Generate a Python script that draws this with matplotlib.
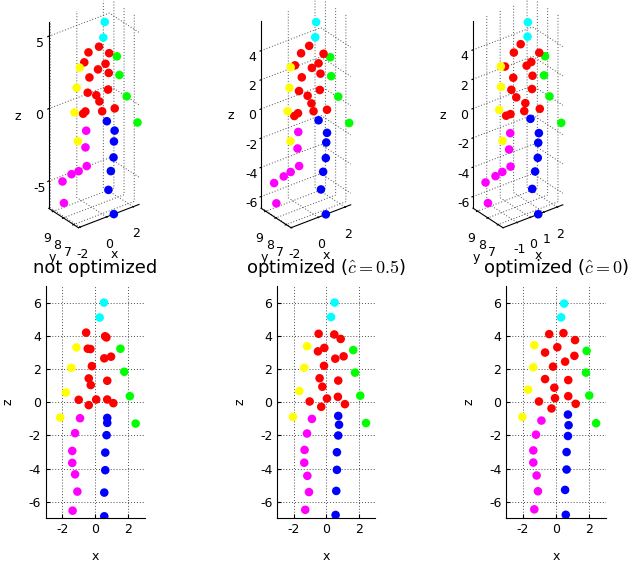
import numpy as np
import matplotlib
matplotlib.use('Agg')
import matplotlib.pyplot as plt

# point groups (body parts) in drawing order
groups = ['cyan'] * 2 + ['red'] * 16 + ['yellow'] * 4 + ['lime'] * 4 + ['magenta'] * 7 + ['blue'] * 7

# not optimized
x_not = [0.53, 0.27,
         -0.55, 0.60, 0.68, -0.45, -0.29, 0.55, 0.96, -0.20, -0.39, -0.27, 0.73, -1.00, 0.06, -0.39, 0.73, 1.10,
         -1.14, -1.45, -1.78, -2.12,
         1.53, 1.76, 2.10, 2.45,
         -0.92, -1.22, -1.39, -1.39, -1.22, -1.08, -1.37,
         0.73, 0.73, 0.69, 0.61, 0.61, 0.55, 0.55]
z_not = [6.00, 5.10,
         4.19, 3.97, 3.90, 3.22, 3.20, 2.64, 2.74, 2.17, 1.43, 1.03, 1.29, 0.14, 0.16, -0.18, 0.16, -0.06,
         3.30, 2.07, 0.58, -0.93,
         3.22, 1.83, 0.36, -1.29,
         -0.97, -1.87, -2.94, -3.66, -4.35, -5.39, -6.54,
         -0.95, -1.25, -1.99, -3.04, -4.10, -5.45, -6.88]

# optimized, c = 0.5
x_half = [0.51, 0.29,
          -0.47, 0.49, 0.88, -0.51, -0.12, 0.55, 1.06, -0.14, -0.41, -0.24, 0.73, -1.02, 0.04, -0.31, 0.71, 1.14,
          -1.18, -1.35, -1.65, -2.04,
          1.65, 1.76, 2.08, 2.43,
          -0.88, -1.18, -1.33, -1.35, -1.16, -1.06, -1.29,
          0.73, 0.78, 0.73, 0.65, 0.65, 0.61, 0.57]
z_half = [6.00, 5.13,
          4.12, 4.08, 3.81, 3.06, 3.27, 2.62, 2.76, 2.19, 1.44, 0.93, 1.30, 0.04, 0.22, -0.28, 0.32, -0.12,
          3.37, 2.07, 0.67, -0.89,
          3.14, 1.78, 0.39, -1.26,
          -1.01, -1.89, -2.88, -3.65, -4.44, -5.42, -6.49,
          -0.83, -1.36, -2.01, -3.02, -4.08, -5.35, -6.80]

# optimized, c = 0
x_zero = [0.49, 0.31,
          -0.41, 0.45, 1.15, -0.66, 0.08, 0.55, 1.11, -0.18, -0.66, -0.10, 0.74, -1.03, -0.06, -0.27, 0.74, 1.19,
          -1.31, -1.37, -1.68, -2.03,
          1.85, 1.81, 2.01, 2.42,
          -0.88, -1.21, -1.37, -1.37, -1.17, -1.09, -1.31,
          0.72, 0.76, 0.72, 0.64, 0.64, 0.55, 0.59]
z_zero = [5.94, 5.11,
          4.10, 4.16, 3.74, 2.99, 3.31, 2.44, 2.79, 2.14, 1.39, 0.87, 1.33, 0.04, 0.24, -0.38, 0.36, -0.10,
          3.43, 2.10, 0.75, -0.89,
          3.09, 1.78, 0.40, -1.27,
          -1.11, -1.96, -2.91, -3.64, -4.42, -5.37, -6.46,
          -0.75, -1.39, -2.04, -3.01, -4.06, -5.29, -6.79]

# depth, read from the 3d views
y_depth = [7.40, 7.20,
           7.59, 8.05, 7.16, 8.13, 6.99, 7.03, 7.88, 7.95, 7.03, 6.88, 7.33, 7.53, 7.04, 8.10, 9.33, 7.16,
           7.68, 7.58, 7.36, 6.58,
           7.51, 7.56, 7.29, 6.68,
           7.33, 7.01, 6.66, 7.46, 8.38, 9.45, 8.93,
           7.45, 6.69, 6.70, 6.64, 6.90, 7.06, 6.53]

titles = ['not optimized', r'optimized ($\hat{c}=0.5$)', r'optimized ($\hat{c}=0$)']
xs = [x_not, x_half, x_zero]
zs = [z_not, z_half, z_zero]
ticks3d_x = [[-2, 0, 2], [-2, 0, 2], [-1, 0, 1, 2]]
ticks3d_z = [[-5, 0, 5], [-6, -4, -2, 0, 2, 4], [-6, -4, -2, 0, 2, 4]]

plt.rcParams['font.family'] = ['DejaVu Sans']
plt.rcParams['mathtext.fontset'] = 'cm'
plt.rcParams['axes.unicode_minus'] = False
plt.rcParams['grid.linestyle'] = (0, (1, 2))
plt.rcParams['grid.color'] = '0.3'
plt.rcParams['grid.linewidth'] = 0.7

fig = plt.figure(figsize=(6.36, 5.68), dpi=100)

# pixel positions of the bottom axes (left, right)
bottom_lr = [(45.7, 144.7), (277.3, 375.3), (506.3, 605.7)]
top_left = [0, 212, 424]

for i in range(3):
    x = np.array(xs[i])
    z = np.array(zs[i])
    y = np.array(y_depth)

    # top row: 3d view
    ax3 = fig.add_axes([(top_left[i] - 15) / 636, 318 / 568, 212 / 636, 268 / 568],
                       projection='3d', proj_type='ortho')
    ax3.scatter(x, y, z, c=groups, s=38, depthshade=False, edgecolors='none', alpha=1)
    ax3.set_xlim(x.min(), x.max())
    ax3.set_ylim(y.min(), y.max())
    ax3.set_zlim(z.min(), z.max())
    ax3.set_box_aspect((np.ptp(x), np.ptp(y), np.ptp(z)), zoom=1.07)
    ax3.view_init(elev=30, azim=-127.5)
    ax3.set_xticks(ticks3d_x[i])
    ax3.set_yticks([7, 8, 9])
    ax3.set_zticks(ticks3d_z[i])
    for axis in (ax3.xaxis, ax3.yaxis, ax3.zaxis):
        axis.set_pane_color((1, 1, 1, 0))
        axis.pane.set_edgecolor('none')
        axis.line.set_color('k')
        axis.line.set_linewidth(0.8)
        axis._axinfo['grid']['linestyle'] = (0, (1, 2))
        axis._axinfo['grid']['color'] = '0.3'
        axis._axinfo['grid']['linewidth'] = 0.7
    ax3.tick_params(labelsize=9, pad=0)
    ax3.set_xlabel('x', fontsize=9, labelpad=-6)
    ax3.set_ylabel('y', fontsize=9, labelpad=-6)
    ax3.set_zlabel('z', fontsize=9, labelpad=6)

    # bottom row: x-z view
    l, r = bottom_lr[i]
    ax = fig.add_axes([l / 636, (568 - 518.3) / 568, (r - l) / 636, 232.3 / 568])
    ax.scatter(x, z, c=groups, s=38, edgecolors='none', zorder=3)
    ax.set_xlim(-3, 3)
    ax.set_ylim(-7, 7)
    ax.set_xticks([-2, 0, 2])
    ax.set_yticks([-6, -4, -2, 0, 2, 4, 6])
    ax.spines['top'].set_visible(False)
    ax.spines['right'].set_visible(False)
    ax.grid(True)
    ax.tick_params(direction='in', length=3, labelsize=9)
    ax.set_xlabel('x', fontsize=9, labelpad=10)
    ax.set_ylabel('z', fontsize=9, labelpad=10)

    fig.text((l + r) / 2 / 636, 1 - 268 / 568, titles[i], ha='center', va='center', fontsize=13)

fig.savefig('out.png', dpi=100)
